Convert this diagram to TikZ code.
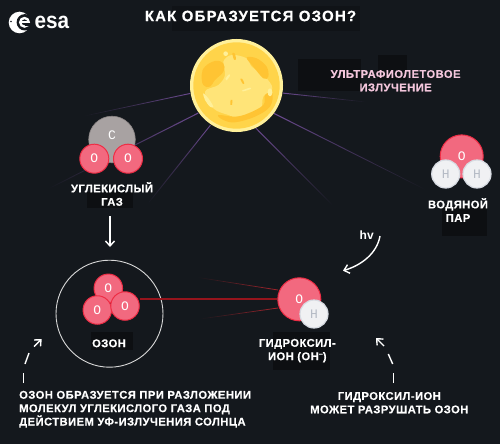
\documentclass[tikz,border=0pt]{standalone}
\usepackage{fontspec}
\setmainfont{Liberation Sans}
\newfontfamily\capsfont{Liberation Sans}[LetterSpace=4,BoldFont={Liberation Sans Bold},BoldFeatures={FakeBold=0.25}]
\newfontfamily\titlefont{Liberation Sans}[LetterSpace=8,BoldFont={Liberation Sans Bold},BoldFeatures={FakeBold=0.25}]
\newfontfamily\atomfont{Liberation Mono}
\usetikzlibrary{arrows.meta}
\definecolor{bgdark}{HTML}{14181D}
\definecolor{patch}{HTML}{0D0F12}
\definecolor{faintpatch}{HTML}{101317}
\definecolor{oxy}{HTML}{F2697F}
\definecolor{oxyrim}{HTML}{EE2D45}
\definecolor{carbon}{HTML}{A8A2A2}
\definecolor{carbonrim}{HTML}{8A8484}
\definecolor{hyd}{HTML}{F0F1F3}
\definecolor{hydrim}{HTML}{D7DBE2}
\definecolor{hydtext}{HTML}{B5BBC5}
\definecolor{rayviolet}{HTML}{6B4A8F}
\definecolor{rayred}{HTML}{A8242C}
\definecolor{raydeep}{HTML}{96141C}
\definecolor{pinktext}{HTML}{F3C6DC}
\definecolor{sunrim}{HTML}{FFF09A}
\definecolor{sunbase}{HTML}{FFD44A}
\definecolor{sunlight}{HTML}{FFE478}
\definecolor{sundark}{HTML}{FFC433}
\tikzset{
  x=1pt,y=-1pt,
  oxygen/.style={circle,draw=oxyrim,fill=oxy,line width=1pt,minimum size=#1,inner sep=0pt,
    text=white,font=\atomfont\fontsize{13}{13}\selectfont},
  hydrogen/.style={circle,fill=hyd,draw=hydrim,line width=1.2pt,minimum size=#1,inner sep=0pt,
    text=hydtext,font=\atomfont\fontsize{13}{13}\selectfont},
  carbonatom/.style={circle,fill=carbon,draw=carbonrim,line width=.6pt,minimum size=#1,inner sep=0pt},
  caption/.style={text=white,align=center,font=\capsfont\bfseries\fontsize{11.2}{13.4}\selectfont,inner sep=0pt},
  whitearrow/.style={draw=white,line width=1.4pt,-{Straight Barb[length=5pt,width=9pt,line width=1.4pt]}},
  whitedash/.style={draw=white,line width=1.4pt},
  darkpatch/.style={fill=patch,draw=none}
}
\begin{document}
\begin{tikzpicture}
\useasboundingbox (0,0) rectangle (500,444);
\fill[bgdark] (0,0) rectangle (500,444);

% darker backing patches behind the labels
\fill[faintpatch] (172,6) rectangle (360,31);
\fill[darkpatch] (298,59) rectangle (361,91);
\fill[darkpatch] (378,55) rectangle (407,80);
\fill[darkpatch] (87,192) rectangle (133,208);
\fill[darkpatch] (442,206) rectangle (487,236);
\fill[darkpatch] (91,332) rectangle (133,350);
\fill[darkpatch] (273,332) rectangle (330,370);

% ultraviolet rays leaving the sun
\coordinate (suncentre) at (236.5,85.5);
\shade[left color=bgdark,right color=rayviolet] (83,116) -- (190,93) -- (190,94) -- (83,116.6) -- cycle;
\shade[left color=bgdark,right color=rayviolet] (47,189) -- (198,112.6) -- (198.4,113.6) -- (47.4,189.8) -- cycle;
\shade[left color=bgdark,right color=rayviolet] (147,204) -- (210,125) -- (210.8,125.5) -- (147.8,204.5) -- cycle;
\shade[left color=rayviolet,right color=bgdark] (283,92.6) -- (367,101.8) -- (367,102.4) -- (283,93.6) -- cycle;
\shade[left color=rayviolet,right color=bgdark] (274,112.8) -- (427,190) -- (426.6,190.6) -- (273.6,113.8) -- cycle;
\shade[left color=rayviolet,right color=bgdark] (256,127.6) -- (333,205) -- (332.4,205.5) -- (255.3,128.3) -- cycle;

% the sun
\fill[sunrim] (suncentre) circle[radius=46.5];
\fill[sunbase] (suncentre) circle[radius=43.2];
\begin{scope}[shift={(185,35)},scale=0.3333]
  \fill[sunlight] plot[smooth cycle,tension=.6] coordinates {(115,80) (140,60) (185,70) (200,95) (240,125) (262,160)
     (235,185) (225,225) (170,250) (130,240) (85,220) (60,170) (100,150) (120,120)};
  \fill[sundark] plot[smooth cycle,tension=.7] coordinates {(50,120) (60,95) (90,78) (115,85) (115,110) (90,135) (75,155) (55,150)};
  \fill[sundark] plot[smooth cycle,tension=.6] coordinates {(185,68) (215,70) (245,95) (250,125) (235,130) (205,95)};
  \fill[sundark] plot[smooth cycle,tension=.6] coordinates {(100,240) (150,245) (190,235) (235,210) (240,180) (262,175)
     (255,215) (210,245) (150,262) (115,255)};
  \fill[sunrim] plot[smooth cycle,tension=.6] coordinates {(55,175) (70,190) (85,215) (75,215) (60,195)};
  \fill[sunrim] (122,56) circle[radius=7];
  \fill[sunrim] (255,172) ellipse[x radius=7,y radius=12];
  \fill[sunrim] plot[smooth cycle] coordinates {(122,130) (132,118) (135,122) (125,136)};
  \fill[sunrim] plot[smooth cycle] coordinates {(172,166) (195,158) (197,162) (175,169)};
  \fill[sundark] plot[smooth cycle] coordinates {(166,132) (172,132) (178,145) (173,146)};
  \fill[sundark] plot[smooth cycle] coordinates {(142,55) (149,55) (153,72) (147,74)};
  \fill[sundark] plot[smooth cycle] coordinates {(137,195) (142,195) (141,210) (136,210)};
\end{scope}

% logo
\fill[white] (19.5,22.5) circle[radius=10.8];
\fill[bgdark] (24.8,22.3) circle[radius=8.2];
\fill[bgdark] (11,21.5) circle[radius=.9];
\draw[white,line width=2.3pt] (24.5,22.3) circle[radius=4.3];
\fill[white] (20,21.5) rectangle (29,23);
\fill[bgdark] (25,23.5) rectangle (31,26);
\node[text=white,inner sep=0pt,anchor=west,font=\bfseries\fontsize{23}{23}\selectfont] (logotext) at (34.5,22) {\scalebox{.9}[1]{esa}};

% title
\node[text=white,inner sep=0pt,font=\titlefont\bfseries\fontsize{15}{15}\selectfont] (title) at (250.5,16) {КАК ОБРАЗУЕТСЯ ОЗОН?};

% carbon dioxide
\node[carbonatom=46.6pt] (carbon) at (112,139.5) {};
\node[text=white,inner sep=0pt,font=\atomfont\fontsize{13}{13}\selectfont] (clabel) at (112,135) {C};
\node[oxygen=29pt] (oa) at (94.3,158.7) {O};
\node[oxygen=29pt] (ob) at (128,158.7) {O};
\node[caption] (co2) at (112,194) {УГЛЕКИСЛЫЙ\\ГАЗ};

% water vapour
\node[oxygen=43pt] (owater) at (461.7,156.4) {O};
\node[hydrogen=28pt] (ha) at (445.7,174) {H};
\node[hydrogen=28pt] (hb) at (477,174) {H};
\node[caption] (water) at (458,210) {ВОДЯНОЙ\\ПАР};

% ultraviolet label
\node[caption,text=pinktext] (uv) at (395.6,80.7) {УЛЬТРАФИОЛЕТОВОЕ\\ИЗЛУЧЕНИЕ};

% ozone
\node[circle,draw=white!85!black,line width=.9pt,minimum size=107pt,inner sep=0pt] (ring) at (109.5,313.7) {};
\node[oxygen=28.5pt] (ozb) at (108.3,288.3) {O};
\node[oxygen=28.5pt] (oza) at (97.3,310) {O};
\node[oxygen=28.5pt] (ozc) at (125,306) {O};
\node[caption] (ozone) at (109,343.3) {ОЗОН};

% hydroxyl and the red lines running to the ozone
\shade[left color=bgdark,right color=rayred] (197,277) -- (278,289.6) -- (278,290.4) -- (197,277.6) -- cycle;
\shade[left color=bgdark,right color=rayred] (200,318.7) -- (278,307.6) -- (278,308.4) -- (200,319.3) -- cycle;
\node[oxygen=43pt] (ohO) at (299.3,299.3) {O};
\fill[raydeep] ([yshift=1.1pt]ozc.east |- ohO.west) rectangle ([yshift=-.5pt]ohO.west);
\node[hydrogen=28pt] (ohH) at (314,314) {H};
\node[caption] (oh) at (297.3,350.7) {ГИДРОКСИЛ-\\ИОН (ОН\raisebox{3.5pt}{\fontsize{7}{7}\selectfont −})};

% arrows
\coordinate (co2tail) at (110,216);
\coordinate (co2head) at (110,247);
\draw[whitearrow] (co2tail) -- (co2head);
\coordinate (hvtail) at (380,236);
\coordinate (hvhead) at (343,270.7);
\draw[whitearrow] (hvtail) .. controls (377,253) and (362,265) .. (hvhead);
\node[text=white,inner sep=0pt,font=\bfseries\fontsize{12}{12}\selectfont] (hv) at (366.7,235.5) {hv};

% dashed curves pointing back at the molecules
\coordinate (leftfoot) at (23.3,383);
\coordinate (lefthead) at (41.7,339);
\draw[whitedash] (leftfoot) -- (23.3,373);
\draw[whitedash] (25,364) -- (29,353);
\draw[whitearrow] (34,346.5) -- (lefthead);
\coordinate (rightfoot) at (393.3,383);
\coordinate (righthead) at (376,338);
\draw[whitedash] (rightfoot) -- (393.3,373);
\draw[whitedash] (392.7,364) -- (388.3,354);
\draw[whitearrow] (384,346) -- (righthead);

% explanatory notes
\node[caption,anchor=west,align=left] (note1) at (19,409.3) {ОЗОН ОБРАЗУЕТСЯ ПРИ РАЗЛОЖЕНИИ\\МОЛЕКУЛ УГЛЕКИСЛОГО ГАЗА ПОД\\ДЕЙСТВИЕМ УФ-ИЗЛУЧЕНИЯ СОЛНЦА};
\node[caption] (note2) at (389.3,402.7) {ГИДРОКСИЛ-ИОН\\МОЖЕТ РАЗРУШАТЬ ОЗОН};
\end{tikzpicture}
\end{document}
